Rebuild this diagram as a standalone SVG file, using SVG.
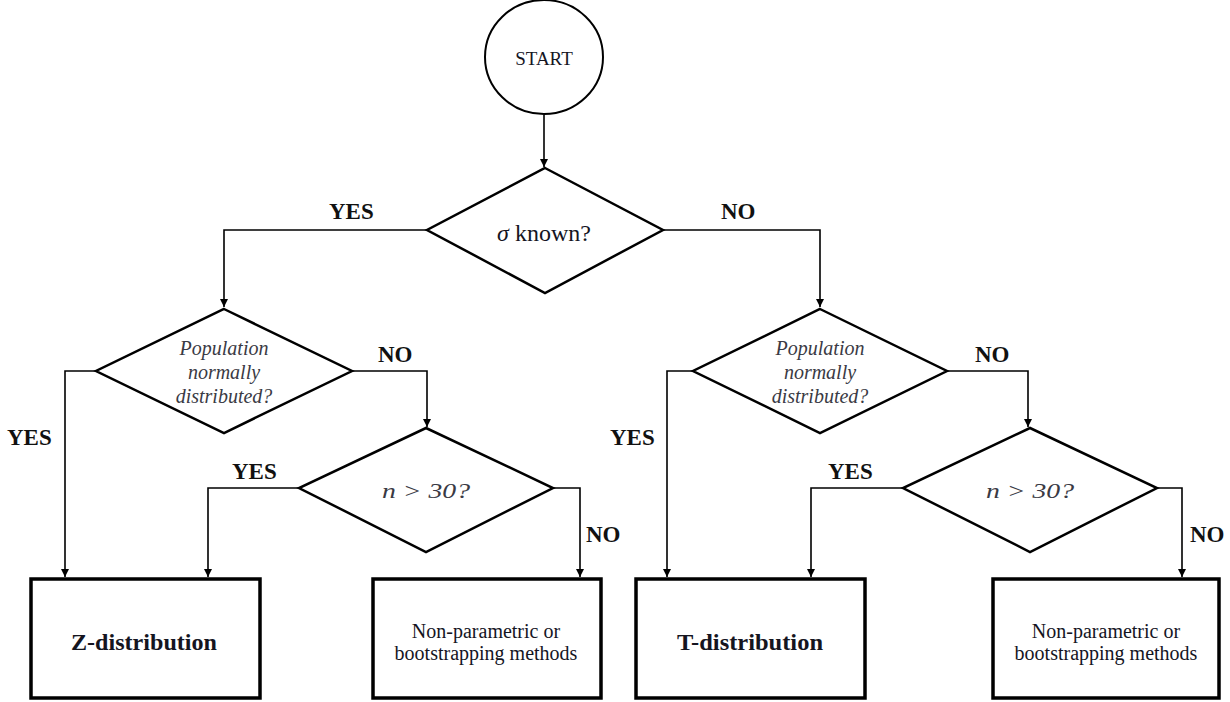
<svg xmlns="http://www.w3.org/2000/svg" width="1230" height="702" viewBox="0 0 1230 702">
  <defs>
    <marker id="arrow" viewBox="0 0 10 10" refX="10" refY="5" markerWidth="8" markerHeight="8" markerUnits="userSpaceOnUse" orient="auto">
      <path d="M0,0 L10,5 L0,10 Z" fill="#000"/>
    </marker>
    <style>
      .shape { fill: #fff; stroke: #000; }
      .circle { stroke-width: 2; }
      .diamond { stroke-width: 2.5; stroke-linejoin: miter; }
      .box { stroke-width: 3.5; }
      .edge { fill: none; stroke: #000; stroke-width: 1.6; marker-end: url(#arrow); }
      .serif { font-family: "Liberation Serif", "Times New Roman", serif; text-anchor: middle; fill: #15151f; }
      .label { font-family: "Liberation Serif", "Times New Roman", serif; font-weight: bold; font-size: 23px; fill: #111; }
      .q { font-style: italic; fill: #3a3a44; }
    </style>
  </defs>
  <rect width="1230" height="702" fill="#fff"/>

  <!-- connectors -->
  <g id="connectors">
    <path class="edge" d="M544,115 V167"/>
    <path class="edge" d="M427,230 H224 V307"/>
    <path class="edge" d="M663,230 H820 V307"/>
    <path class="edge" d="M96,371 H65 V577"/>
    <path class="edge" d="M352,371 H427 V427"/>
    <path class="edge" d="M299,488 H208 V577"/>
    <path class="edge" d="M553,488 H580 V577"/>
    <path class="edge" d="M693,371 H667 V577"/>
    <path class="edge" d="M947,371 H1028 V427"/>
    <path class="edge" d="M903,488 H811 V577"/>
    <path class="edge" d="M1157,488 H1182 V577"/>
  </g>

  <!-- branch labels -->
  <g id="edge-labels">
    <text class="label" x="329" y="219">YES</text>
    <text class="label" x="721" y="219">NO</text>
    <text class="label" x="7" y="445">YES</text>
    <text class="label" x="378" y="362">NO</text>
    <text class="label" x="232" y="479">YES</text>
    <text class="label" x="586" y="542">NO</text>
    <text class="label" x="610" y="445">YES</text>
    <text class="label" x="975" y="362">NO</text>
    <text class="label" x="828" y="479">YES</text>
    <text class="label" x="1190" y="542">NO</text>
  </g>

  <g id="start">
    <ellipse class="shape circle" cx="544" cy="57" rx="59" ry="57"/>
    <text class="serif" x="544" y="65" font-size="19">START</text>
  </g>

  <g id="sigma-known">
    <polygon class="shape diamond" points="545,168 663,230 545,293 427,230"/>
    <text class="serif" x="544" y="241" font-size="24"><tspan font-style="italic">σ</tspan> known?</text>
  </g>

  <g id="normal-left">
    <polygon class="shape diamond" points="224,309 352,371 224,433 96,371"/>
    <text class="serif q" font-size="20"><tspan x="224" y="355">Population</tspan><tspan x="224" y="379">normally</tspan><tspan x="224" y="403">distributed?</tspan></text>
  </g>

  <g id="n30-left">
    <polygon class="shape diamond" points="426,428 553,488 426,552 299,488"/>
    <text class="serif q" x="426" y="498" font-size="22" textLength="88" lengthAdjust="spacingAndGlyphs">n &gt; 30?</text>
  </g>

  <g id="z-dist">
    <rect class="shape box" x="31" y="579" width="229" height="119"/>
    <text class="serif" x="144" y="650" font-size="23" font-weight="bold" textLength="146" lengthAdjust="spacingAndGlyphs">Z-distribution</text>
  </g>

  <g id="nonparam-left">
    <rect class="shape box" x="373" y="579" width="228" height="119"/>
    <text class="serif" font-size="20"><tspan x="486" y="638">Non-parametric or</tspan><tspan x="486" y="660">bootstrapping methods</tspan></text>
  </g>

  <g id="normal-right">
    <polygon class="shape diamond" points="820,309 947,371 820,433 693,371"/>
    <text class="serif q" font-size="20"><tspan x="820" y="355">Population</tspan><tspan x="820" y="379">normally</tspan><tspan x="820" y="403">distributed?</tspan></text>
  </g>

  <g id="n30-right">
    <polygon class="shape diamond" points="1030,428 1157,488 1030,552 903,488"/>
    <text class="serif q" x="1030" y="498" font-size="22" textLength="88" lengthAdjust="spacingAndGlyphs">n &gt; 30?</text>
  </g>

  <g id="t-dist">
    <rect class="shape box" x="636" y="579" width="229" height="119"/>
    <text class="serif" x="750" y="650" font-size="23" font-weight="bold" textLength="146" lengthAdjust="spacingAndGlyphs">T-distribution</text>
  </g>

  <g id="nonparam-right">
    <rect class="shape box" x="993" y="579" width="226" height="119"/>
    <text class="serif" font-size="20"><tspan x="1106" y="638">Non-parametric or</tspan><tspan x="1106" y="660">bootstrapping methods</tspan></text>
  </g>
</svg>
